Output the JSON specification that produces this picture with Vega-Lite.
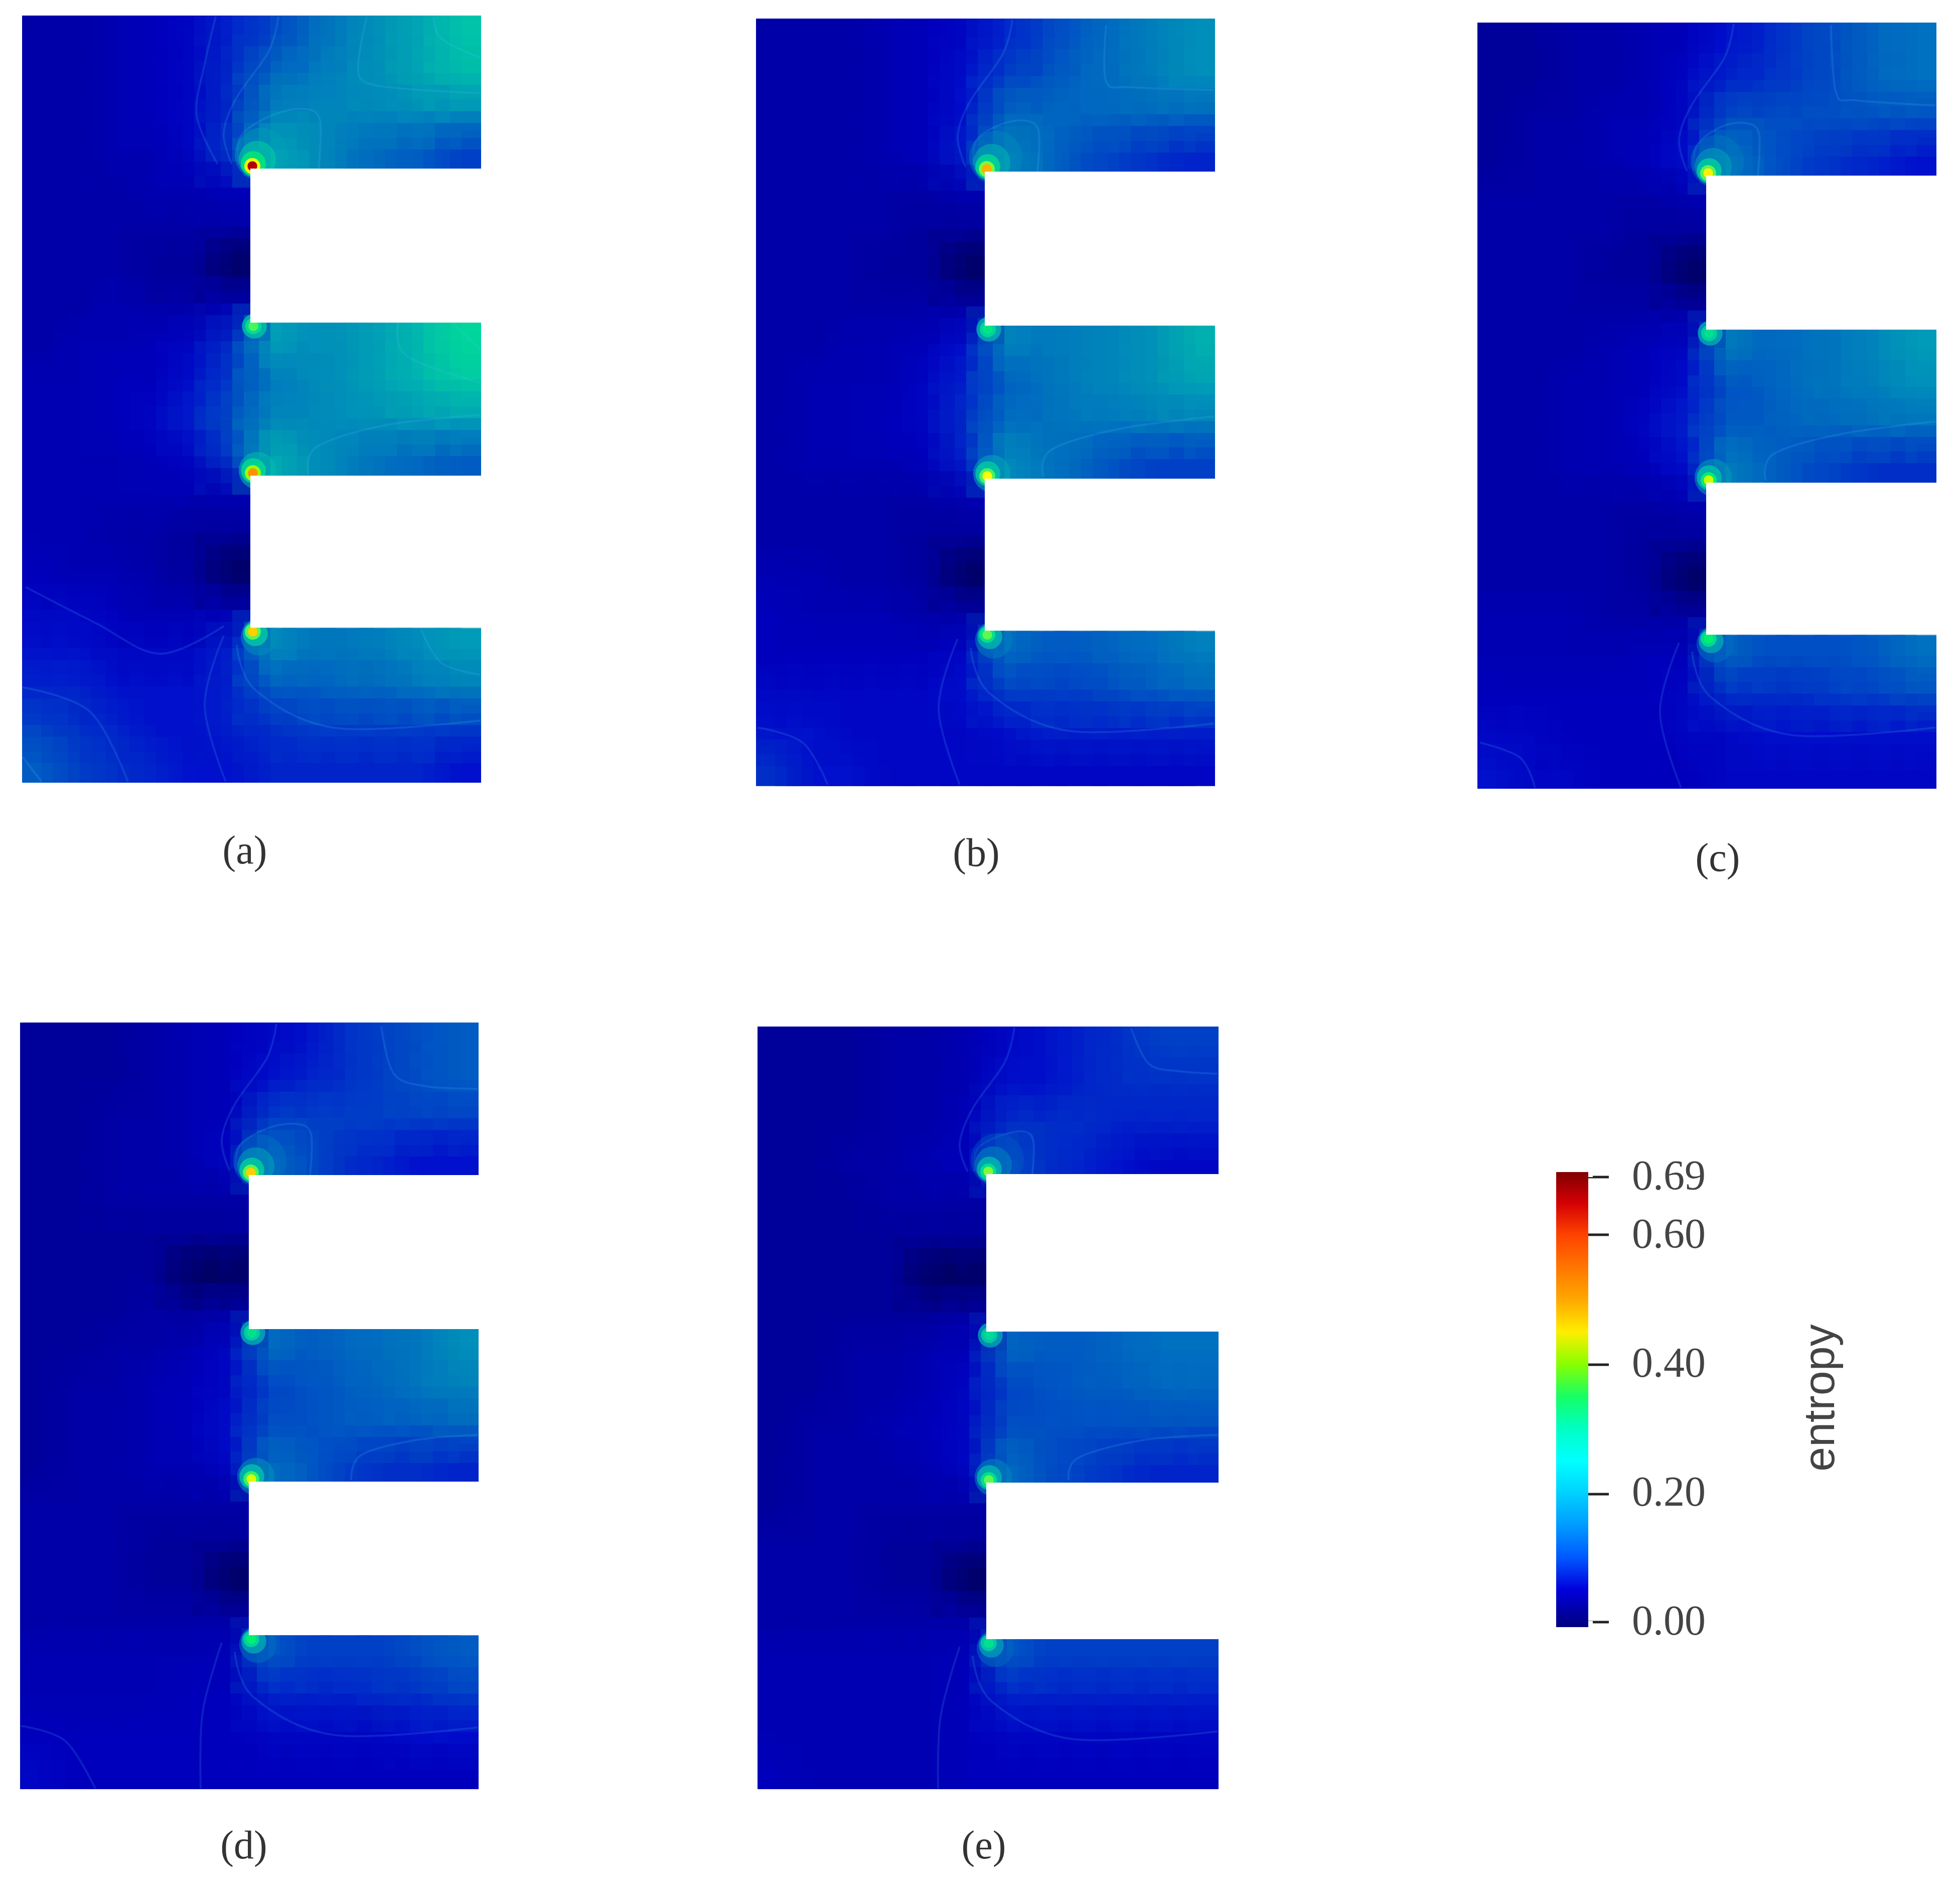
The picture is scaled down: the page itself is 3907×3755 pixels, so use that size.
{"$schema":"https://vega.github.io/schema/vega-lite/v6.json","width":3907,"height":3755,"padding":0,"autosize":{"type":"none"},"background":"white","view":{"stroke":null},
"datasets":{"cells":[
{"x":82,"y":69,"v":0.02},{"x":158,"y":69,"v":0.02},{"x":235,"y":69,"v":0.03},{"x":311,"y":69,"v":0.04},{"x":387,"y":69,"v":0.05},{"x":463,"y":69,"v":0.07},{"x":539,"y":69,"v":0.09},{"x":615,"y":69,"v":0.12},{"x":692,"y":69,"v":0.15},{"x":768,"y":69,"v":0.18},{"x":844,"y":69,"v":0.21},{"x":920,"y":69,"v":0.25},
{"x":82,"y":145,"v":0.02},{"x":158,"y":145,"v":0.02},{"x":235,"y":145,"v":0.03},{"x":311,"y":145,"v":0.04},{"x":387,"y":145,"v":0.05},{"x":463,"y":145,"v":0.08},{"x":539,"y":145,"v":0.12},{"x":615,"y":145,"v":0.14},{"x":692,"y":145,"v":0.16},{"x":768,"y":145,"v":0.18},{"x":844,"y":145,"v":0.21},{"x":920,"y":145,"v":0.24},
{"x":82,"y":222,"v":0.02},{"x":158,"y":222,"v":0.02},{"x":235,"y":222,"v":0.03},{"x":311,"y":222,"v":0.04},{"x":387,"y":222,"v":0.05},{"x":463,"y":222,"v":0.08},{"x":539,"y":222,"v":0.15},{"x":615,"y":222,"v":0.16},{"x":692,"y":222,"v":0.16},{"x":768,"y":222,"v":0.16},{"x":844,"y":222,"v":0.17},{"x":920,"y":222,"v":0.17},
{"x":82,"y":298,"v":0.02},{"x":158,"y":298,"v":0.02},{"x":235,"y":298,"v":0.03},{"x":311,"y":298,"v":0.03},{"x":387,"y":298,"v":0.05},{"x":463,"y":298,"v":0.09},{"x":539,"y":298,"v":0.2},{"x":615,"y":298,"v":0.18},{"x":692,"y":298,"v":0.14},{"x":768,"y":298,"v":0.12},{"x":844,"y":298,"v":0.11},{"x":920,"y":298,"v":0.09},
{"x":82,"y":375,"v":0.02},{"x":158,"y":375,"v":0.02},{"x":235,"y":375,"v":0.02},{"x":311,"y":375,"v":0.03},{"x":387,"y":375,"v":0.03},{"x":463,"y":375,"v":0.04},
{"x":82,"y":451,"v":0.02},{"x":158,"y":451,"v":0.02},{"x":235,"y":451,"v":0.02},{"x":311,"y":451,"v":0.02},{"x":387,"y":451,"v":0.02},{"x":463,"y":451,"v":0.02},
{"x":82,"y":528,"v":0.02},{"x":158,"y":528,"v":0.02},{"x":235,"y":528,"v":0.02},{"x":311,"y":528,"v":0.01},{"x":387,"y":528,"v":0.01},{"x":463,"y":528,"v":0},
{"x":82,"y":604,"v":0.02},{"x":158,"y":604,"v":0.02},{"x":235,"y":604,"v":0.03},{"x":311,"y":604,"v":0.02},{"x":387,"y":604,"v":0.02},{"x":463,"y":604,"v":0.03},
{"x":82,"y":681,"v":0.02},{"x":158,"y":681,"v":0.03},{"x":235,"y":681,"v":0.03},{"x":311,"y":681,"v":0.04},{"x":387,"y":681,"v":0.05},{"x":463,"y":681,"v":0.08},{"x":539,"y":681,"v":0.2},{"x":615,"y":681,"v":0.17},{"x":692,"y":681,"v":0.18},{"x":768,"y":681,"v":0.2},{"x":844,"y":681,"v":0.24},{"x":920,"y":681,"v":0.28},
{"x":82,"y":757,"v":0.03},{"x":158,"y":757,"v":0.03},{"x":235,"y":757,"v":0.04},{"x":311,"y":757,"v":0.04},{"x":387,"y":757,"v":0.06},{"x":463,"y":757,"v":0.09},{"x":539,"y":757,"v":0.14},{"x":615,"y":757,"v":0.16},{"x":692,"y":757,"v":0.18},{"x":768,"y":757,"v":0.2},{"x":844,"y":757,"v":0.23},{"x":920,"y":757,"v":0.26},
{"x":82,"y":833,"v":0.03},{"x":158,"y":833,"v":0.03},{"x":235,"y":833,"v":0.04},{"x":311,"y":833,"v":0.05},{"x":387,"y":833,"v":0.07},{"x":463,"y":833,"v":0.1},{"x":539,"y":833,"v":0.16},{"x":615,"y":833,"v":0.16},{"x":692,"y":833,"v":0.17},{"x":768,"y":833,"v":0.18},{"x":844,"y":833,"v":0.19},{"x":920,"y":833,"v":0.2},
{"x":82,"y":910,"v":0.03},{"x":158,"y":910,"v":0.03},{"x":235,"y":910,"v":0.03},{"x":311,"y":910,"v":0.04},{"x":387,"y":910,"v":0.05},{"x":463,"y":910,"v":0.09},{"x":539,"y":910,"v":0.22},{"x":615,"y":910,"v":0.18},{"x":692,"y":910,"v":0.15},{"x":768,"y":910,"v":0.13},{"x":844,"y":910,"v":0.12},{"x":920,"y":910,"v":0.11},
{"x":82,"y":986,"v":0.03},{"x":158,"y":986,"v":0.03},{"x":235,"y":986,"v":0.03},{"x":311,"y":986,"v":0.03},{"x":387,"y":986,"v":0.03},{"x":463,"y":986,"v":0.03},
{"x":82,"y":1063,"v":0.03},{"x":158,"y":1063,"v":0.03},{"x":235,"y":1063,"v":0.02},{"x":311,"y":1063,"v":0.02},{"x":387,"y":1063,"v":0.01},{"x":463,"y":1063,"v":0.01},
{"x":82,"y":1139,"v":0.04},{"x":158,"y":1139,"v":0.03},{"x":235,"y":1139,"v":0.03},{"x":311,"y":1139,"v":0.02},{"x":387,"y":1139,"v":0.01},{"x":463,"y":1139,"v":0},
{"x":82,"y":1216,"v":0.05},{"x":158,"y":1216,"v":0.05},{"x":235,"y":1216,"v":0.04},{"x":311,"y":1216,"v":0.03},{"x":387,"y":1216,"v":0.03},{"x":463,"y":1216,"v":0.03},
{"x":82,"y":1292,"v":0.06},{"x":158,"y":1292,"v":0.06},{"x":235,"y":1292,"v":0.05},{"x":311,"y":1292,"v":0.05},{"x":387,"y":1292,"v":0.05},{"x":463,"y":1292,"v":0.07},{"x":539,"y":1292,"v":0.17},{"x":615,"y":1292,"v":0.14},{"x":692,"y":1292,"v":0.14},{"x":768,"y":1292,"v":0.15},{"x":844,"y":1292,"v":0.17},{"x":920,"y":1292,"v":0.19},
{"x":82,"y":1369,"v":0.07},{"x":158,"y":1369,"v":0.07},{"x":235,"y":1369,"v":0.06},{"x":311,"y":1369,"v":0.06},{"x":387,"y":1369,"v":0.06},{"x":463,"y":1369,"v":0.07},{"x":539,"y":1369,"v":0.11},{"x":615,"y":1369,"v":0.11},{"x":692,"y":1369,"v":0.12},{"x":768,"y":1369,"v":0.12},{"x":844,"y":1369,"v":0.14},{"x":920,"y":1369,"v":0.15},
{"x":82,"y":1445,"v":0.09},{"x":158,"y":1445,"v":0.08},{"x":235,"y":1445,"v":0.07},{"x":311,"y":1445,"v":0.06},{"x":387,"y":1445,"v":0.06},{"x":463,"y":1445,"v":0.07},{"x":539,"y":1445,"v":0.08},{"x":615,"y":1445,"v":0.09},{"x":692,"y":1445,"v":0.09},{"x":768,"y":1445,"v":0.09},{"x":844,"y":1445,"v":0.09},{"x":920,"y":1445,"v":0.09},
{"x":82,"y":1521,"v":0.11},{"x":158,"y":1521,"v":0.09},{"x":235,"y":1521,"v":0.08},{"x":311,"y":1521,"v":0.07},{"x":387,"y":1521,"v":0.06},{"x":463,"y":1521,"v":0.06},{"x":539,"y":1521,"v":0.07},{"x":615,"y":1521,"v":0.07},{"x":692,"y":1521,"v":0.07},{"x":768,"y":1521,"v":0.07},{"x":844,"y":1521,"v":0.07},{"x":920,"y":1521,"v":0.06},

{"x":1545,"y":75,"v":0.02},{"x":1621,"y":75,"v":0.02},{"x":1698,"y":75,"v":0.02},{"x":1774,"y":75,"v":0.03},{"x":1850,"y":75,"v":0.04},{"x":1926,"y":75,"v":0.05},{"x":2002,"y":75,"v":0.07},{"x":2078,"y":75,"v":0.09},{"x":2155,"y":75,"v":0.11},{"x":2231,"y":75,"v":0.13},{"x":2307,"y":75,"v":0.15},{"x":2383,"y":75,"v":0.17},
{"x":1545,"y":151,"v":0.02},{"x":1621,"y":151,"v":0.02},{"x":1698,"y":151,"v":0.02},{"x":1774,"y":151,"v":0.03},{"x":1850,"y":151,"v":0.04},{"x":1926,"y":151,"v":0.06},{"x":2002,"y":151,"v":0.09},{"x":2078,"y":151,"v":0.1},{"x":2155,"y":151,"v":0.12},{"x":2231,"y":151,"v":0.13},{"x":2307,"y":151,"v":0.15},{"x":2383,"y":151,"v":0.17},
{"x":1545,"y":228,"v":0.02},{"x":1621,"y":228,"v":0.02},{"x":1698,"y":228,"v":0.02},{"x":1774,"y":228,"v":0.03},{"x":1850,"y":228,"v":0.04},{"x":1926,"y":228,"v":0.06},{"x":2002,"y":228,"v":0.12},{"x":2078,"y":228,"v":0.12},{"x":2155,"y":228,"v":0.12},{"x":2231,"y":228,"v":0.12},{"x":2307,"y":228,"v":0.12},{"x":2383,"y":228,"v":0.12},
{"x":1545,"y":304,"v":0.02},{"x":1621,"y":304,"v":0.02},{"x":1698,"y":304,"v":0.02},{"x":1774,"y":304,"v":0.03},{"x":1850,"y":304,"v":0.04},{"x":1926,"y":304,"v":0.07},{"x":2002,"y":304,"v":0.15},{"x":2078,"y":304,"v":0.13},{"x":2155,"y":304,"v":0.1},{"x":2231,"y":304,"v":0.09},{"x":2307,"y":304,"v":0.08},{"x":2383,"y":304,"v":0.07},
{"x":1545,"y":381,"v":0.02},{"x":1621,"y":381,"v":0.02},{"x":1698,"y":381,"v":0.02},{"x":1774,"y":381,"v":0.02},{"x":1850,"y":381,"v":0.02},{"x":1926,"y":381,"v":0.03},
{"x":1545,"y":457,"v":0.02},{"x":1621,"y":457,"v":0.02},{"x":1698,"y":457,"v":0.02},{"x":1774,"y":457,"v":0.02},{"x":1850,"y":457,"v":0.01},{"x":1926,"y":457,"v":0.01},
{"x":1545,"y":534,"v":0.02},{"x":1621,"y":534,"v":0.02},{"x":1698,"y":534,"v":0.02},{"x":1774,"y":534,"v":0.01},{"x":1850,"y":534,"v":0.01},{"x":1926,"y":534,"v":0},
{"x":1545,"y":610,"v":0.02},{"x":1621,"y":610,"v":0.02},{"x":1698,"y":610,"v":0.02},{"x":1774,"y":610,"v":0.02},{"x":1850,"y":610,"v":0.02},{"x":1926,"y":610,"v":0.02},
{"x":1545,"y":687,"v":0.02},{"x":1621,"y":687,"v":0.02},{"x":1698,"y":687,"v":0.03},{"x":1774,"y":687,"v":0.03},{"x":1850,"y":687,"v":0.04},{"x":1926,"y":687,"v":0.06},{"x":2002,"y":687,"v":0.16},{"x":2078,"y":687,"v":0.14},{"x":2155,"y":687,"v":0.15},{"x":2231,"y":687,"v":0.16},{"x":2307,"y":687,"v":0.18},{"x":2383,"y":687,"v":0.22},
{"x":1545,"y":763,"v":0.02},{"x":1621,"y":763,"v":0.03},{"x":1698,"y":763,"v":0.03},{"x":1774,"y":763,"v":0.03},{"x":1850,"y":763,"v":0.05},{"x":1926,"y":763,"v":0.07},{"x":2002,"y":763,"v":0.11},{"x":2078,"y":763,"v":0.13},{"x":2155,"y":763,"v":0.15},{"x":2231,"y":763,"v":0.16},{"x":2307,"y":763,"v":0.18},{"x":2383,"y":763,"v":0.2},
{"x":1545,"y":839,"v":0.02},{"x":1621,"y":839,"v":0.03},{"x":1698,"y":839,"v":0.03},{"x":1774,"y":839,"v":0.04},{"x":1850,"y":839,"v":0.05},{"x":1926,"y":839,"v":0.08},{"x":2002,"y":839,"v":0.13},{"x":2078,"y":839,"v":0.13},{"x":2155,"y":839,"v":0.14},{"x":2231,"y":839,"v":0.14},{"x":2307,"y":839,"v":0.15},{"x":2383,"y":839,"v":0.15},
{"x":1545,"y":916,"v":0.02},{"x":1621,"y":916,"v":0.03},{"x":1698,"y":916,"v":0.03},{"x":1774,"y":916,"v":0.03},{"x":1850,"y":916,"v":0.04},{"x":1926,"y":916,"v":0.07},{"x":2002,"y":916,"v":0.17},{"x":2078,"y":916,"v":0.14},{"x":2155,"y":916,"v":0.12},{"x":2231,"y":916,"v":0.1},{"x":2307,"y":916,"v":0.09},{"x":2383,"y":916,"v":0.09},
{"x":1545,"y":992,"v":0.02},{"x":1621,"y":992,"v":0.02},{"x":1698,"y":992,"v":0.02},{"x":1774,"y":992,"v":0.02},{"x":1850,"y":992,"v":0.02},{"x":1926,"y":992,"v":0.03},
{"x":1545,"y":1069,"v":0.02},{"x":1621,"y":1069,"v":0.02},{"x":1698,"y":1069,"v":0.02},{"x":1774,"y":1069,"v":0.02},{"x":1850,"y":1069,"v":0.01},{"x":1926,"y":1069,"v":0.01},
{"x":1545,"y":1145,"v":0.03},{"x":1621,"y":1145,"v":0.03},{"x":1698,"y":1145,"v":0.02},{"x":1774,"y":1145,"v":0.02},{"x":1850,"y":1145,"v":0.01},{"x":1926,"y":1145,"v":0},
{"x":1545,"y":1222,"v":0.04},{"x":1621,"y":1222,"v":0.03},{"x":1698,"y":1222,"v":0.03},{"x":1774,"y":1222,"v":0.03},{"x":1850,"y":1222,"v":0.02},{"x":1926,"y":1222,"v":0.02},
{"x":1545,"y":1298,"v":0.04},{"x":1621,"y":1298,"v":0.04},{"x":1698,"y":1298,"v":0.04},{"x":1774,"y":1298,"v":0.04},{"x":1850,"y":1298,"v":0.04},{"x":1926,"y":1298,"v":0.05},{"x":2002,"y":1298,"v":0.13},{"x":2078,"y":1298,"v":0.11},{"x":2155,"y":1298,"v":0.11},{"x":2231,"y":1298,"v":0.12},{"x":2307,"y":1298,"v":0.13},{"x":2383,"y":1298,"v":0.15},
{"x":1545,"y":1375,"v":0.05},{"x":1621,"y":1375,"v":0.05},{"x":1698,"y":1375,"v":0.05},{"x":1774,"y":1375,"v":0.05},{"x":1850,"y":1375,"v":0.05},{"x":1926,"y":1375,"v":0.06},{"x":2002,"y":1375,"v":0.09},{"x":2078,"y":1375,"v":0.09},{"x":2155,"y":1375,"v":0.09},{"x":2231,"y":1375,"v":0.1},{"x":2307,"y":1375,"v":0.11},{"x":2383,"y":1375,"v":0.12},
{"x":1545,"y":1451,"v":0.06},{"x":1621,"y":1451,"v":0.06},{"x":1698,"y":1451,"v":0.05},{"x":1774,"y":1451,"v":0.05},{"x":1850,"y":1451,"v":0.05},{"x":1926,"y":1451,"v":0.05},{"x":2002,"y":1451,"v":0.06},{"x":2078,"y":1451,"v":0.07},{"x":2155,"y":1451,"v":0.07},{"x":2231,"y":1451,"v":0.07},{"x":2307,"y":1451,"v":0.07},{"x":2383,"y":1451,"v":0.07},
{"x":1545,"y":1527,"v":0.08},{"x":1621,"y":1527,"v":0.06},{"x":1698,"y":1527,"v":0.06},{"x":1774,"y":1527,"v":0.05},{"x":1850,"y":1527,"v":0.05},{"x":1926,"y":1527,"v":0.05},{"x":2002,"y":1527,"v":0.05},{"x":2078,"y":1527,"v":0.05},{"x":2155,"y":1527,"v":0.05},{"x":2231,"y":1527,"v":0.05},{"x":2307,"y":1527,"v":0.05},{"x":2383,"y":1527,"v":0.05},

{"x":2983,"y":83,"v":0.01},{"x":3059,"y":83,"v":0.01},{"x":3136,"y":83,"v":0.02},{"x":3212,"y":83,"v":0.02},{"x":3288,"y":83,"v":0.03},{"x":3364,"y":83,"v":0.04},{"x":3440,"y":83,"v":0.06},{"x":3516,"y":83,"v":0.07},{"x":3593,"y":83,"v":0.09},{"x":3669,"y":83,"v":0.1},{"x":3745,"y":83,"v":0.12},{"x":3821,"y":83,"v":0.13},
{"x":2983,"y":159,"v":0.01},{"x":3059,"y":159,"v":0.01},{"x":3136,"y":159,"v":0.02},{"x":3212,"y":159,"v":0.02},{"x":3288,"y":159,"v":0.03},{"x":3364,"y":159,"v":0.05},{"x":3440,"y":159,"v":0.07},{"x":3516,"y":159,"v":0.08},{"x":3593,"y":159,"v":0.09},{"x":3669,"y":159,"v":0.1},{"x":3745,"y":159,"v":0.12},{"x":3821,"y":159,"v":0.13},
{"x":2983,"y":236,"v":0.01},{"x":3059,"y":236,"v":0.02},{"x":3136,"y":236,"v":0.02},{"x":3212,"y":236,"v":0.03},{"x":3288,"y":236,"v":0.03},{"x":3364,"y":236,"v":0.05},{"x":3440,"y":236,"v":0.1},{"x":3516,"y":236,"v":0.1},{"x":3593,"y":236,"v":0.1},{"x":3669,"y":236,"v":0.1},{"x":3745,"y":236,"v":0.1},{"x":3821,"y":236,"v":0.1},
{"x":2983,"y":312,"v":0.01},{"x":3059,"y":312,"v":0.02},{"x":3136,"y":312,"v":0.02},{"x":3212,"y":312,"v":0.03},{"x":3288,"y":312,"v":0.04},{"x":3364,"y":312,"v":0.06},{"x":3440,"y":312,"v":0.14},{"x":3516,"y":312,"v":0.11},{"x":3593,"y":312,"v":0.09},{"x":3669,"y":312,"v":0.08},{"x":3745,"y":312,"v":0.07},{"x":3821,"y":312,"v":0.06},
{"x":2983,"y":389,"v":0.02},{"x":3059,"y":389,"v":0.02},{"x":3136,"y":389,"v":0.02},{"x":3212,"y":389,"v":0.02},{"x":3288,"y":389,"v":0.02},{"x":3364,"y":389,"v":0.03},
{"x":2983,"y":465,"v":0.02},{"x":3059,"y":465,"v":0.02},{"x":3136,"y":465,"v":0.02},{"x":3212,"y":465,"v":0.02},{"x":3288,"y":465,"v":0.01},{"x":3364,"y":465,"v":0.01},
{"x":2983,"y":542,"v":0.02},{"x":3059,"y":542,"v":0.02},{"x":3136,"y":542,"v":0.02},{"x":3212,"y":542,"v":0.01},{"x":3288,"y":542,"v":0.01},{"x":3364,"y":542,"v":0},
{"x":2983,"y":618,"v":0.02},{"x":3059,"y":618,"v":0.02},{"x":3136,"y":618,"v":0.02},{"x":3212,"y":618,"v":0.02},{"x":3288,"y":618,"v":0.02},{"x":3364,"y":618,"v":0.02},
{"x":2983,"y":695,"v":0.02},{"x":3059,"y":695,"v":0.02},{"x":3136,"y":695,"v":0.02},{"x":3212,"y":695,"v":0.03},{"x":3288,"y":695,"v":0.04},{"x":3364,"y":695,"v":0.05},{"x":3440,"y":695,"v":0.15},{"x":3516,"y":695,"v":0.12},{"x":3593,"y":695,"v":0.13},{"x":3669,"y":695,"v":0.14},{"x":3745,"y":695,"v":0.16},{"x":3821,"y":695,"v":0.19},
{"x":2983,"y":771,"v":0.02},{"x":3059,"y":771,"v":0.02},{"x":3136,"y":771,"v":0.03},{"x":3212,"y":771,"v":0.03},{"x":3288,"y":771,"v":0.04},{"x":3364,"y":771,"v":0.06},{"x":3440,"y":771,"v":0.1},{"x":3516,"y":771,"v":0.11},{"x":3593,"y":771,"v":0.13},{"x":3669,"y":771,"v":0.14},{"x":3745,"y":771,"v":0.15},{"x":3821,"y":771,"v":0.17},
{"x":2983,"y":847,"v":0.02},{"x":3059,"y":847,"v":0.02},{"x":3136,"y":847,"v":0.03},{"x":3212,"y":847,"v":0.03},{"x":3288,"y":847,"v":0.05},{"x":3364,"y":847,"v":0.07},{"x":3440,"y":847,"v":0.11},{"x":3516,"y":847,"v":0.11},{"x":3593,"y":847,"v":0.12},{"x":3669,"y":847,"v":0.12},{"x":3745,"y":847,"v":0.13},{"x":3821,"y":847,"v":0.13},
{"x":2983,"y":924,"v":0.02},{"x":3059,"y":924,"v":0.02},{"x":3136,"y":924,"v":0.03},{"x":3212,"y":924,"v":0.03},{"x":3288,"y":924,"v":0.04},{"x":3364,"y":924,"v":0.06},{"x":3440,"y":924,"v":0.15},{"x":3516,"y":924,"v":0.12},{"x":3593,"y":924,"v":0.1},{"x":3669,"y":924,"v":0.09},{"x":3745,"y":924,"v":0.08},{"x":3821,"y":924,"v":0.08},
{"x":2983,"y":1000,"v":0.02},{"x":3059,"y":1000,"v":0.02},{"x":3136,"y":1000,"v":0.02},{"x":3212,"y":1000,"v":0.02},{"x":3288,"y":1000,"v":0.02},{"x":3364,"y":1000,"v":0.03},
{"x":2983,"y":1077,"v":0.02},{"x":3059,"y":1077,"v":0.02},{"x":3136,"y":1077,"v":0.02},{"x":3212,"y":1077,"v":0.02},{"x":3288,"y":1077,"v":0.01},{"x":3364,"y":1077,"v":0.01},
{"x":2983,"y":1153,"v":0.02},{"x":3059,"y":1153,"v":0.02},{"x":3136,"y":1153,"v":0.02},{"x":3212,"y":1153,"v":0.02},{"x":3288,"y":1153,"v":0.01},{"x":3364,"y":1153,"v":0},
{"x":2983,"y":1230,"v":0.03},{"x":3059,"y":1230,"v":0.03},{"x":3136,"y":1230,"v":0.03},{"x":3212,"y":1230,"v":0.02},{"x":3288,"y":1230,"v":0.02},{"x":3364,"y":1230,"v":0.02},
{"x":2983,"y":1306,"v":0.03},{"x":3059,"y":1306,"v":0.03},{"x":3136,"y":1306,"v":0.03},{"x":3212,"y":1306,"v":0.03},{"x":3288,"y":1306,"v":0.04},{"x":3364,"y":1306,"v":0.04},{"x":3440,"y":1306,"v":0.12},{"x":3516,"y":1306,"v":0.1},{"x":3593,"y":1306,"v":0.1},{"x":3669,"y":1306,"v":0.1},{"x":3745,"y":1306,"v":0.11},{"x":3821,"y":1306,"v":0.13},
{"x":2983,"y":1383,"v":0.04},{"x":3059,"y":1383,"v":0.04},{"x":3136,"y":1383,"v":0.04},{"x":3212,"y":1383,"v":0.04},{"x":3288,"y":1383,"v":0.04},{"x":3364,"y":1383,"v":0.05},{"x":3440,"y":1383,"v":0.08},{"x":3516,"y":1383,"v":0.08},{"x":3593,"y":1383,"v":0.08},{"x":3669,"y":1383,"v":0.09},{"x":3745,"y":1383,"v":0.09},{"x":3821,"y":1383,"v":0.1},
{"x":2983,"y":1459,"v":0.05},{"x":3059,"y":1459,"v":0.05},{"x":3136,"y":1459,"v":0.04},{"x":3212,"y":1459,"v":0.04},{"x":3288,"y":1459,"v":0.04},{"x":3364,"y":1459,"v":0.05},{"x":3440,"y":1459,"v":0.05},{"x":3516,"y":1459,"v":0.06},{"x":3593,"y":1459,"v":0.06},{"x":3669,"y":1459,"v":0.06},{"x":3745,"y":1459,"v":0.06},{"x":3821,"y":1459,"v":0.06},
{"x":2983,"y":1535,"v":0.06},{"x":3059,"y":1535,"v":0.05},{"x":3136,"y":1535,"v":0.05},{"x":3212,"y":1535,"v":0.04},{"x":3288,"y":1535,"v":0.04},{"x":3364,"y":1535,"v":0.04},{"x":3440,"y":1535,"v":0.05},{"x":3516,"y":1535,"v":0.05},{"x":3593,"y":1535,"v":0.05},{"x":3669,"y":1535,"v":0.05},{"x":3745,"y":1535,"v":0.05},{"x":3821,"y":1535,"v":0.05},

{"x":78,"y":2076,"v":0.01},{"x":154,"y":2076,"v":0.01},{"x":231,"y":2076,"v":0.01},{"x":307,"y":2076,"v":0.02},{"x":383,"y":2076,"v":0.03},{"x":459,"y":2076,"v":0.04},{"x":535,"y":2076,"v":0.05},{"x":611,"y":2076,"v":0.06},{"x":688,"y":2076,"v":0.08},{"x":764,"y":2076,"v":0.09},{"x":840,"y":2076,"v":0.1},{"x":916,"y":2076,"v":0.11},
{"x":78,"y":2152,"v":0.01},{"x":154,"y":2152,"v":0.01},{"x":231,"y":2152,"v":0.01},{"x":307,"y":2152,"v":0.02},{"x":383,"y":2152,"v":0.03},{"x":459,"y":2152,"v":0.04},{"x":535,"y":2152,"v":0.06},{"x":611,"y":2152,"v":0.07},{"x":688,"y":2152,"v":0.08},{"x":764,"y":2152,"v":0.09},{"x":840,"y":2152,"v":0.1},{"x":916,"y":2152,"v":0.11},
{"x":78,"y":2229,"v":0.01},{"x":154,"y":2229,"v":0.01},{"x":231,"y":2229,"v":0.02},{"x":307,"y":2229,"v":0.02},{"x":383,"y":2229,"v":0.03},{"x":459,"y":2229,"v":0.04},{"x":535,"y":2229,"v":0.09},{"x":611,"y":2229,"v":0.09},{"x":688,"y":2229,"v":0.09},{"x":764,"y":2229,"v":0.09},{"x":840,"y":2229,"v":0.09},{"x":916,"y":2229,"v":0.09},
{"x":78,"y":2305,"v":0.01},{"x":154,"y":2305,"v":0.01},{"x":231,"y":2305,"v":0.02},{"x":307,"y":2305,"v":0.02},{"x":383,"y":2305,"v":0.03},{"x":459,"y":2305,"v":0.05},{"x":535,"y":2305,"v":0.12},{"x":611,"y":2305,"v":0.1},{"x":688,"y":2305,"v":0.08},{"x":764,"y":2305,"v":0.07},{"x":840,"y":2305,"v":0.06},{"x":916,"y":2305,"v":0.06},
{"x":78,"y":2382,"v":0.01},{"x":154,"y":2382,"v":0.01},{"x":231,"y":2382,"v":0.02},{"x":307,"y":2382,"v":0.02},{"x":383,"y":2382,"v":0.02},{"x":459,"y":2382,"v":0.02},
{"x":78,"y":2458,"v":0.01},{"x":154,"y":2458,"v":0.01},{"x":231,"y":2458,"v":0.01},{"x":307,"y":2458,"v":0.01},{"x":383,"y":2458,"v":0.01},{"x":459,"y":2458,"v":0.01},
{"x":78,"y":2535,"v":0.01},{"x":154,"y":2535,"v":0.01},{"x":231,"y":2535,"v":0.01},{"x":307,"y":2535,"v":0.01},{"x":383,"y":2535,"v":0},{"x":459,"y":2535,"v":0},
{"x":78,"y":2611,"v":0.01},{"x":154,"y":2611,"v":0.01},{"x":231,"y":2611,"v":0.01},{"x":307,"y":2611,"v":0.02},{"x":383,"y":2611,"v":0.01},{"x":459,"y":2611,"v":0.02},
{"x":78,"y":2688,"v":0.01},{"x":154,"y":2688,"v":0.01},{"x":231,"y":2688,"v":0.02},{"x":307,"y":2688,"v":0.02},{"x":383,"y":2688,"v":0.03},{"x":459,"y":2688,"v":0.05},{"x":535,"y":2688,"v":0.13},{"x":611,"y":2688,"v":0.11},{"x":688,"y":2688,"v":0.12},{"x":764,"y":2688,"v":0.13},{"x":840,"y":2688,"v":0.14},{"x":916,"y":2688,"v":0.17},
{"x":78,"y":2764,"v":0.01},{"x":154,"y":2764,"v":0.02},{"x":231,"y":2764,"v":0.02},{"x":307,"y":2764,"v":0.03},{"x":383,"y":2764,"v":0.04},{"x":459,"y":2764,"v":0.05},{"x":535,"y":2764,"v":0.09},{"x":611,"y":2764,"v":0.1},{"x":688,"y":2764,"v":0.11},{"x":764,"y":2764,"v":0.12},{"x":840,"y":2764,"v":0.14},{"x":916,"y":2764,"v":0.15},
{"x":78,"y":2840,"v":0.01},{"x":154,"y":2840,"v":0.02},{"x":231,"y":2840,"v":0.02},{"x":307,"y":2840,"v":0.03},{"x":383,"y":2840,"v":0.04},{"x":459,"y":2840,"v":0.06},{"x":535,"y":2840,"v":0.1},{"x":611,"y":2840,"v":0.1},{"x":688,"y":2840,"v":0.11},{"x":764,"y":2840,"v":0.11},{"x":840,"y":2840,"v":0.11},{"x":916,"y":2840,"v":0.12},
{"x":78,"y":2917,"v":0.01},{"x":154,"y":2917,"v":0.02},{"x":231,"y":2917,"v":0.02},{"x":307,"y":2917,"v":0.03},{"x":383,"y":2917,"v":0.03},{"x":459,"y":2917,"v":0.05},{"x":535,"y":2917,"v":0.13},{"x":611,"y":2917,"v":0.11},{"x":688,"y":2917,"v":0.09},{"x":764,"y":2917,"v":0.08},{"x":840,"y":2917,"v":0.08},{"x":916,"y":2917,"v":0.07},
{"x":78,"y":2993,"v":0.02},{"x":154,"y":2993,"v":0.02},{"x":231,"y":2993,"v":0.02},{"x":307,"y":2993,"v":0.02},{"x":383,"y":2993,"v":0.02},{"x":459,"y":2993,"v":0.02},
{"x":78,"y":3070,"v":0.02},{"x":154,"y":3070,"v":0.02},{"x":231,"y":3070,"v":0.02},{"x":307,"y":3070,"v":0.01},{"x":383,"y":3070,"v":0.01},{"x":459,"y":3070,"v":0.01},
{"x":78,"y":3146,"v":0.02},{"x":154,"y":3146,"v":0.02},{"x":231,"y":3146,"v":0.02},{"x":307,"y":3146,"v":0.01},{"x":383,"y":3146,"v":0.01},{"x":459,"y":3146,"v":0},
{"x":78,"y":3223,"v":0.02},{"x":154,"y":3223,"v":0.02},{"x":231,"y":3223,"v":0.02},{"x":307,"y":3223,"v":0.02},{"x":383,"y":3223,"v":0.02},{"x":459,"y":3223,"v":0.02},
{"x":78,"y":3299,"v":0.03},{"x":154,"y":3299,"v":0.03},{"x":231,"y":3299,"v":0.03},{"x":307,"y":3299,"v":0.03},{"x":383,"y":3299,"v":0.03},{"x":459,"y":3299,"v":0.04},{"x":535,"y":3299,"v":0.11},{"x":611,"y":3299,"v":0.09},{"x":688,"y":3299,"v":0.09},{"x":764,"y":3299,"v":0.09},{"x":840,"y":3299,"v":0.1},{"x":916,"y":3299,"v":0.11},
{"x":78,"y":3376,"v":0.03},{"x":154,"y":3376,"v":0.03},{"x":231,"y":3376,"v":0.03},{"x":307,"y":3376,"v":0.03},{"x":383,"y":3376,"v":0.04},{"x":459,"y":3376,"v":0.04},{"x":535,"y":3376,"v":0.07},{"x":611,"y":3376,"v":0.07},{"x":688,"y":3376,"v":0.07},{"x":764,"y":3376,"v":0.08},{"x":840,"y":3376,"v":0.08},{"x":916,"y":3376,"v":0.09},
{"x":78,"y":3452,"v":0.04},{"x":154,"y":3452,"v":0.04},{"x":231,"y":3452,"v":0.04},{"x":307,"y":3452,"v":0.04},{"x":383,"y":3452,"v":0.04},{"x":459,"y":3452,"v":0.04},{"x":535,"y":3452,"v":0.05},{"x":611,"y":3452,"v":0.05},{"x":688,"y":3452,"v":0.05},{"x":764,"y":3452,"v":0.05},{"x":840,"y":3452,"v":0.06},{"x":916,"y":3452,"v":0.06},
{"x":78,"y":3528,"v":0.05},{"x":154,"y":3528,"v":0.04},{"x":231,"y":3528,"v":0.04},{"x":307,"y":3528,"v":0.04},{"x":383,"y":3528,"v":0.04},{"x":459,"y":3528,"v":0.04},{"x":535,"y":3528,"v":0.04},{"x":611,"y":3528,"v":0.04},{"x":688,"y":3528,"v":0.04},{"x":764,"y":3528,"v":0.04},{"x":840,"y":3528,"v":0.04},{"x":916,"y":3528,"v":0.04},

{"x":1548,"y":2084,"v":0.01},{"x":1625,"y":2084,"v":0.01},{"x":1701,"y":2084,"v":0.01},{"x":1778,"y":2084,"v":0.02},{"x":1855,"y":2084,"v":0.02},{"x":1931,"y":2084,"v":0.03},{"x":2008,"y":2084,"v":0.05},{"x":2084,"y":2084,"v":0.06},{"x":2161,"y":2084,"v":0.07},{"x":2238,"y":2084,"v":0.08},{"x":2314,"y":2084,"v":0.09},{"x":2391,"y":2084,"v":0.09},
{"x":1548,"y":2160,"v":0.01},{"x":1625,"y":2160,"v":0.01},{"x":1701,"y":2160,"v":0.01},{"x":1778,"y":2160,"v":0.02},{"x":1855,"y":2160,"v":0.02},{"x":1931,"y":2160,"v":0.03},{"x":2008,"y":2160,"v":0.06},{"x":2084,"y":2160,"v":0.06},{"x":2161,"y":2160,"v":0.07},{"x":2238,"y":2160,"v":0.08},{"x":2314,"y":2160,"v":0.08},{"x":2391,"y":2160,"v":0.08},
{"x":1548,"y":2236,"v":0.01},{"x":1625,"y":2236,"v":0.01},{"x":1701,"y":2236,"v":0.01},{"x":1778,"y":2236,"v":0.02},{"x":1855,"y":2236,"v":0.02},{"x":1931,"y":2236,"v":0.04},{"x":2008,"y":2236,"v":0.08},{"x":2084,"y":2236,"v":0.08},{"x":2161,"y":2236,"v":0.08},{"x":2238,"y":2236,"v":0.07},{"x":2314,"y":2236,"v":0.07},{"x":2391,"y":2236,"v":0.07},
{"x":1548,"y":2312,"v":0.01},{"x":1625,"y":2312,"v":0.01},{"x":1701,"y":2312,"v":0.02},{"x":1778,"y":2312,"v":0.02},{"x":1855,"y":2312,"v":0.03},{"x":1931,"y":2312,"v":0.04},{"x":2008,"y":2312,"v":0.1},{"x":2084,"y":2312,"v":0.08},{"x":2161,"y":2312,"v":0.07},{"x":2238,"y":2312,"v":0.06},{"x":2314,"y":2312,"v":0.05},{"x":2391,"y":2312,"v":0.05},
{"x":1548,"y":2388,"v":0.01},{"x":1625,"y":2388,"v":0.01},{"x":1701,"y":2388,"v":0.01},{"x":1778,"y":2388,"v":0.02},{"x":1855,"y":2388,"v":0.02},{"x":1931,"y":2388,"v":0.02},
{"x":1548,"y":2464,"v":0.01},{"x":1625,"y":2464,"v":0.01},{"x":1701,"y":2464,"v":0.01},{"x":1778,"y":2464,"v":0.01},{"x":1855,"y":2464,"v":0.01},{"x":1931,"y":2464,"v":0.01},
{"x":1548,"y":2540,"v":0.01},{"x":1625,"y":2540,"v":0.01},{"x":1701,"y":2540,"v":0.01},{"x":1778,"y":2540,"v":0.01},{"x":1855,"y":2540,"v":0},{"x":1931,"y":2540,"v":0},
{"x":1548,"y":2616,"v":0.01},{"x":1625,"y":2616,"v":0.01},{"x":1701,"y":2616,"v":0.01},{"x":1778,"y":2616,"v":0.01},{"x":1855,"y":2616,"v":0.01},{"x":1931,"y":2616,"v":0.02},
{"x":1548,"y":2692,"v":0.01},{"x":1625,"y":2692,"v":0.01},{"x":1701,"y":2692,"v":0.02},{"x":1778,"y":2692,"v":0.02},{"x":1855,"y":2692,"v":0.03},{"x":1931,"y":2692,"v":0.04},{"x":2008,"y":2692,"v":0.12},{"x":2084,"y":2692,"v":0.11},{"x":2161,"y":2692,"v":0.11},{"x":2238,"y":2692,"v":0.12},{"x":2314,"y":2692,"v":0.13},{"x":2391,"y":2692,"v":0.13},
{"x":1548,"y":2768,"v":0.01},{"x":1625,"y":2768,"v":0.01},{"x":1701,"y":2768,"v":0.02},{"x":1778,"y":2768,"v":0.02},{"x":1855,"y":2768,"v":0.03},{"x":1931,"y":2768,"v":0.05},{"x":2008,"y":2768,"v":0.09},{"x":2084,"y":2768,"v":0.1},{"x":2161,"y":2768,"v":0.11},{"x":2238,"y":2768,"v":0.11},{"x":2314,"y":2768,"v":0.12},{"x":2391,"y":2768,"v":0.12},
{"x":1548,"y":2844,"v":0.01},{"x":1625,"y":2844,"v":0.02},{"x":1701,"y":2844,"v":0.02},{"x":1778,"y":2844,"v":0.03},{"x":1855,"y":2844,"v":0.04},{"x":1931,"y":2844,"v":0.05},{"x":2008,"y":2844,"v":0.1},{"x":2084,"y":2844,"v":0.1},{"x":2161,"y":2844,"v":0.1},{"x":2238,"y":2844,"v":0.1},{"x":2314,"y":2844,"v":0.1},{"x":2391,"y":2844,"v":0.1},
{"x":1548,"y":2920,"v":0.01},{"x":1625,"y":2920,"v":0.02},{"x":1701,"y":2920,"v":0.02},{"x":1778,"y":2920,"v":0.02},{"x":1855,"y":2920,"v":0.03},{"x":1931,"y":2920,"v":0.05},{"x":2008,"y":2920,"v":0.13},{"x":2084,"y":2920,"v":0.1},{"x":2161,"y":2920,"v":0.09},{"x":2238,"y":2920,"v":0.08},{"x":2314,"y":2920,"v":0.07},{"x":2391,"y":2920,"v":0.07},
{"x":1548,"y":2996,"v":0.01},{"x":1625,"y":2996,"v":0.02},{"x":1701,"y":2996,"v":0.02},{"x":1778,"y":2996,"v":0.02},{"x":1855,"y":2996,"v":0.02},{"x":1931,"y":2996,"v":0.02},
{"x":1548,"y":3072,"v":0.02},{"x":1625,"y":3072,"v":0.02},{"x":1701,"y":3072,"v":0.02},{"x":1778,"y":3072,"v":0.01},{"x":1855,"y":3072,"v":0.01},{"x":1931,"y":3072,"v":0.01},
{"x":1548,"y":3148,"v":0.02},{"x":1625,"y":3148,"v":0.02},{"x":1701,"y":3148,"v":0.02},{"x":1778,"y":3148,"v":0.01},{"x":1855,"y":3148,"v":0.01},{"x":1931,"y":3148,"v":0},
{"x":1548,"y":3224,"v":0.02},{"x":1625,"y":3224,"v":0.02},{"x":1701,"y":3224,"v":0.02},{"x":1778,"y":3224,"v":0.02},{"x":1855,"y":3224,"v":0.02},{"x":1931,"y":3224,"v":0.02},
{"x":1548,"y":3300,"v":0.03},{"x":1625,"y":3300,"v":0.03},{"x":1701,"y":3300,"v":0.03},{"x":1778,"y":3300,"v":0.03},{"x":1855,"y":3300,"v":0.03},{"x":1931,"y":3300,"v":0.04},{"x":2008,"y":3300,"v":0.11},{"x":2084,"y":3300,"v":0.09},{"x":2161,"y":3300,"v":0.09},{"x":2238,"y":3300,"v":0.09},{"x":2314,"y":3300,"v":0.09},{"x":2391,"y":3300,"v":0.09},
{"x":1548,"y":3376,"v":0.03},{"x":1625,"y":3376,"v":0.03},{"x":1701,"y":3376,"v":0.03},{"x":1778,"y":3376,"v":0.03},{"x":1855,"y":3376,"v":0.03},{"x":1931,"y":3376,"v":0.04},{"x":2008,"y":3376,"v":0.07},{"x":2084,"y":3376,"v":0.07},{"x":2161,"y":3376,"v":0.07},{"x":2238,"y":3376,"v":0.07},{"x":2314,"y":3376,"v":0.07},{"x":2391,"y":3376,"v":0.07},
{"x":1548,"y":3452,"v":0.03},{"x":1625,"y":3452,"v":0.03},{"x":1701,"y":3452,"v":0.03},{"x":1778,"y":3452,"v":0.03},{"x":1855,"y":3452,"v":0.03},{"x":1931,"y":3452,"v":0.04},{"x":2008,"y":3452,"v":0.05},{"x":2084,"y":3452,"v":0.05},{"x":2161,"y":3452,"v":0.05},{"x":2238,"y":3452,"v":0.05},{"x":2314,"y":3452,"v":0.05},{"x":2391,"y":3452,"v":0.05},
{"x":1548,"y":3528,"v":0.04},{"x":1625,"y":3528,"v":0.03},{"x":1701,"y":3528,"v":0.03},{"x":1778,"y":3528,"v":0.03},{"x":1855,"y":3528,"v":0.03},{"x":1931,"y":3528,"v":0.04},{"x":2008,"y":3528,"v":0.04},{"x":2084,"y":3528,"v":0.04},{"x":2161,"y":3528,"v":0.04},{"x":2238,"y":3528,"v":0.04},{"x":2314,"y":3528,"v":0.04},{"x":2391,"y":3528,"v":0.04}
],
"lines":[
{"k":"a1","o":1,"x":731,"y":33},{"k":"a1","o":2,"x":714,"y":128},{"k":"a1","o":3,"x":727,"y":163},{"k":"a1","o":4,"x":797,"y":176},{"k":"a1","o":5,"x":957,"y":186},
{"k":"a2","o":1,"x":864,"y":33},{"k":"a2","o":2,"x":880,"y":77},{"k":"a2","o":3,"x":957,"y":115},
{"k":"a3","o":1,"x":475,"y":327},{"k":"a3","o":2,"x":481,"y":270},{"k":"a3","o":3,"x":542,"y":230},{"k":"a3","o":4,"x":606,"y":217},{"k":"a3","o":5,"x":638,"y":240},{"k":"a3","o":6,"x":635,"y":337},
{"k":"a4","o":1,"x":555,"y":33},{"k":"a4","o":2,"x":536,"y":102},{"k":"a4","o":3,"x":472,"y":194},{"k":"a4","o":4,"x":446,"y":265},{"k":"a4","o":5,"x":462,"y":327},
{"k":"a5","o":1,"x":430,"y":33},{"k":"a5","o":2,"x":408,"y":128},{"k":"a5","o":3,"x":392,"y":230},{"k":"a5","o":4,"x":434,"y":327},
{"k":"a6","o":1,"x":794,"y":643},{"k":"a6","o":2,"x":810,"y":709},{"k":"a6","o":3,"x":957,"y":763},
{"k":"a7","o":1,"x":902,"y":643},{"k":"a7","o":2,"x":957,"y":696},
{"k":"a8","o":1,"x":615,"y":945},{"k":"a8","o":2,"x":631,"y":891},{"k":"a8","o":3,"x":765,"y":848},{"k":"a8","o":4,"x":957,"y":827},
{"k":"a9","o":1,"x":839,"y":1254},{"k":"a9","o":2,"x":880,"y":1321},{"k":"a9","o":3,"x":957,"y":1345},
{"k":"a10","o":1,"x":472,"y":1285},{"k":"a10","o":2,"x":510,"y":1376},{"k":"a10","o":3,"x":670,"y":1451},{"k":"a10","o":4,"x":957,"y":1436},
{"k":"a11","o":1,"x":446,"y":1267},{"k":"a11","o":2,"x":408,"y":1406},{"k":"a11","o":3,"x":450,"y":1558},
{"k":"a12","o":1,"x":45,"y":1370},{"k":"a12","o":2,"x":179,"y":1418},{"k":"a12","o":3,"x":255,"y":1558},
{"k":"a13","o":1,"x":45,"y":1509},{"k":"a13","o":2,"x":83,"y":1558},
{"k":"a14","o":1,"x":51,"y":1170},{"k":"a14","o":2,"x":191,"y":1242},{"k":"a14","o":3,"x":319,"y":1303},{"k":"a14","o":4,"x":446,"y":1248},
{"k":"b1","o":1,"x":2205,"y":50},{"k":"b1","o":2,"x":2205,"y":162},{"k":"b1","o":3,"x":2255,"y":174},{"k":"b1","o":4,"x":2420,"y":179},
{"k":"b2","o":1,"x":1940,"y":330},{"k":"b2","o":2,"x":1946,"y":280},{"k":"b2","o":3,"x":1990,"y":250},{"k":"b2","o":4,"x":2040,"y":240},{"k":"b2","o":5,"x":2070,"y":260},{"k":"b2","o":6,"x":2068,"y":342},
{"k":"b3","o":1,"x":2018,"y":39},{"k":"b3","o":2,"x":1999,"y":108},{"k":"b3","o":3,"x":1935,"y":200},{"k":"b3","o":4,"x":1909,"y":271},{"k":"b3","o":5,"x":1925,"y":333},
{"k":"b4","o":1,"x":2080,"y":951},{"k":"b4","o":2,"x":2095,"y":897},{"k":"b4","o":3,"x":2230,"y":855},{"k":"b4","o":4,"x":2420,"y":830},
{"k":"b5","o":1,"x":1935,"y":1291},{"k":"b5","o":2,"x":1973,"y":1382},{"k":"b5","o":3,"x":2133,"y":1457},{"k":"b5","o":4,"x":2420,"y":1442},
{"k":"b6","o":1,"x":1909,"y":1273},{"k":"b6","o":2,"x":1871,"y":1412},{"k":"b6","o":3,"x":1913,"y":1564},
{"k":"b7","o":1,"x":1510,"y":1450},{"k":"b7","o":2,"x":1600,"y":1480},{"k":"b7","o":3,"x":1650,"y":1564},
{"k":"c1","o":1,"x":3650,"y":50},{"k":"c1","o":2,"x":3660,"y":185},{"k":"c1","o":3,"x":3700,"y":200},{"k":"c1","o":4,"x":3858,"y":210},
{"k":"c2","o":1,"x":3376,"y":341},{"k":"c2","o":2,"x":3382,"y":291},{"k":"c2","o":3,"x":3426,"y":255},{"k":"c2","o":4,"x":3476,"y":245},{"k":"c2","o":5,"x":3506,"y":265},{"k":"c2","o":6,"x":3504,"y":350},
{"k":"c3","o":1,"x":3456,"y":47},{"k":"c3","o":2,"x":3437,"y":116},{"k":"c3","o":3,"x":3373,"y":208},{"k":"c3","o":4,"x":3347,"y":279},{"k":"c3","o":5,"x":3363,"y":341},
{"k":"c4","o":1,"x":3520,"y":959},{"k":"c4","o":2,"x":3535,"y":905},{"k":"c4","o":3,"x":3670,"y":865},{"k":"c4","o":4,"x":3858,"y":840},
{"k":"c5","o":1,"x":3373,"y":1299},{"k":"c5","o":2,"x":3411,"y":1390},{"k":"c5","o":3,"x":3571,"y":1465},{"k":"c5","o":4,"x":3858,"y":1450},
{"k":"c6","o":1,"x":3347,"y":1281},{"k":"c6","o":2,"x":3309,"y":1420},{"k":"c6","o":3,"x":3351,"y":1570},
{"k":"c7","o":1,"x":2950,"y":1480},{"k":"c7","o":2,"x":3030,"y":1510},{"k":"c7","o":3,"x":3060,"y":1570},
{"k":"d1","o":1,"x":760,"y":2045},{"k":"d1","o":2,"x":785,"y":2140},{"k":"d1","o":3,"x":850,"y":2165},{"k":"d1","o":4,"x":952,"y":2170},
{"k":"d2","o":1,"x":471,"y":2334},{"k":"d2","o":2,"x":477,"y":2285},{"k":"d2","o":3,"x":530,"y":2250},{"k":"d2","o":4,"x":590,"y":2240},{"k":"d2","o":5,"x":620,"y":2260},{"k":"d2","o":6,"x":618,"y":2342},
{"k":"d3","o":1,"x":551,"y":2040},{"k":"d3","o":2,"x":532,"y":2109},{"k":"d3","o":3,"x":468,"y":2201},{"k":"d3","o":4,"x":442,"y":2272},{"k":"d3","o":5,"x":458,"y":2334},
{"k":"d4","o":1,"x":700,"y":2950},{"k":"d4","o":2,"x":720,"y":2900},{"k":"d4","o":3,"x":830,"y":2870},{"k":"d4","o":4,"x":952,"y":2860},
{"k":"d5","o":1,"x":468,"y":3292},{"k":"d5","o":2,"x":506,"y":3383},{"k":"d5","o":3,"x":666,"y":3458},{"k":"d5","o":4,"x":952,"y":3443},
{"k":"d6","o":1,"x":442,"y":3274},{"k":"d6","o":2,"x":404,"y":3413},{"k":"d6","o":3,"x":400,"y":3565},
{"k":"d7","o":1,"x":42,"y":3440},{"k":"d7","o":2,"x":130,"y":3470},{"k":"d7","o":3,"x":190,"y":3565},
{"k":"e1","o":1,"x":2255,"y":2050},{"k":"e1","o":2,"x":2290,"y":2120},{"k":"e1","o":3,"x":2350,"y":2135},{"k":"e1","o":4,"x":2427,"y":2140},
{"k":"e2","o":1,"x":1942,"y":2335},{"k":"e2","o":2,"x":1948,"y":2290},{"k":"e2","o":3,"x":1990,"y":2265},{"k":"e2","o":4,"x":2040,"y":2255},{"k":"e2","o":5,"x":2060,"y":2275},{"k":"e2","o":6,"x":2058,"y":2340},
{"k":"e3","o":1,"x":2022,"y":2048},{"k":"e3","o":2,"x":2003,"y":2117},{"k":"e3","o":3,"x":1939,"y":2209},{"k":"e3","o":4,"x":1913,"y":2280},{"k":"e3","o":5,"x":1929,"y":2335},
{"k":"e4","o":1,"x":2130,"y":2950},{"k":"e4","o":2,"x":2150,"y":2905},{"k":"e4","o":3,"x":2280,"y":2870},{"k":"e4","o":4,"x":2427,"y":2860},
{"k":"e5","o":1,"x":1939,"y":3300},{"k":"e5","o":2,"x":1977,"y":3391},{"k":"e5","o":3,"x":2137,"y":3466},{"k":"e5","o":4,"x":2427,"y":3451},
{"k":"e6","o":1,"x":1913,"y":3282},{"k":"e6","o":2,"x":1875,"y":3421},{"k":"e6","o":3,"x":1870,"y":3565}
],
"r1":[{"x":521,"y":308,"v":0.2},{"x":1985,"y":314,"v":0.17},{"x":3423,"y":322,"v":0.15},{"x":518,"y":2314,"v":0.14},{"x":1988,"y":2312,"v":0.11}],
"r2":[{"x":513,"y":318,"v":0.27},{"x":513,"y":938,"v":0.24},{"x":517,"y":1269,"v":0.17},{"x":1977,"y":324,"v":0.23},{"x":1977,"y":944,"v":0.21},{"x":1981,"y":1275,"v":0.15},{"x":3415,"y":332,"v":0.2},{"x":3415,"y":952,"v":0.19},{"x":3419,"y":1283,"v":0.13},{"x":510,"y":2324,"v":0.2},{"x":510,"y":2943,"v":0.18},{"x":514,"y":3277,"v":0.13},{"x":1980,"y":2322,"v":0.16},{"x":1980,"y":2945,"v":0.16},{"x":1984,"y":3285,"v":0.12}],
"r3":[{"x":505,"y":326,"v":0.33},{"x":507,"y":650,"v":0.26},{"x":505,"y":938,"v":0.3},{"x":509,"y":1263,"v":0.27},{"x":1969,"y":332,"v":0.3},{"x":1971,"y":656,"v":0.24},{"x":1969,"y":944,"v":0.27},{"x":1973,"y":1269,"v":0.24},{"x":3407,"y":340,"v":0.28},{"x":3409,"y":664,"v":0.23},{"x":3407,"y":952,"v":0.25},{"x":3411,"y":1277,"v":0.22},{"x":502,"y":2332,"v":0.28},{"x":504,"y":2656,"v":0.23},{"x":502,"y":2943,"v":0.26},{"x":506,"y":3271,"v":0.22},{"x":1972,"y":2330,"v":0.24},{"x":1974,"y":2661,"v":0.22},{"x":1972,"y":2945,"v":0.24},{"x":1976,"y":3279,"v":0.2}],
"r4":[{"x":503,"y":331,"v":0.45},{"x":505,"y":650,"v":0.3},{"x":504,"y":943,"v":0.4},{"x":504,"y":1259,"v":0.36},{"x":1967,"y":337,"v":0.38},{"x":1969,"y":656,"v":0.28},{"x":1968,"y":949,"v":0.35},{"x":1968,"y":1265,"v":0.31},{"x":3405,"y":345,"v":0.36},{"x":3407,"y":664,"v":0.27},{"x":3406,"y":957,"v":0.33},{"x":3406,"y":1273,"v":0.29},{"x":500,"y":2337,"v":0.36},{"x":502,"y":2656,"v":0.27},{"x":501,"y":2948,"v":0.34},{"x":501,"y":3267,"v":0.28},{"x":1970,"y":2335,"v":0.3},{"x":1972,"y":2661,"v":0.26},{"x":1971,"y":2950,"v":0.3},{"x":1971,"y":3275,"v":0.26}],
"r5":[{"x":503,"y":331,"v":0.66},{"x":505,"y":650,"v":0.35},{"x":504,"y":943,"v":0.52},{"x":504,"y":1259,"v":0.48},{"x":1967,"y":337,"v":0.5},{"x":1969,"y":656,"v":0.31},{"x":1968,"y":949,"v":0.45},{"x":1968,"y":1265,"v":0.36},{"x":3405,"y":345,"v":0.46},{"x":3407,"y":664,"v":0.3},{"x":3406,"y":957,"v":0.42},{"x":3406,"y":1273,"v":0.33},{"x":500,"y":2337,"v":0.48},{"x":502,"y":2656,"v":0.3},{"x":501,"y":2948,"v":0.43},{"x":501,"y":3267,"v":0.33},{"x":1970,"y":2335,"v":0.38},{"x":1972,"y":2661,"v":0.29},{"x":1971,"y":2950,"v":0.36},{"x":1971,"y":3275,"v":0.3}],
"gaps":[{"x":499,"x2":970,"y":336,"y2":643},{"x":499,"x2":970,"y":948,"y2":1251},{"x":1963,"x2":2434,"y":342,"y2":649},{"x":1963,"x2":2434,"y":954,"y2":1257},{"x":3401,"x2":3872,"y":350,"y2":657},{"x":3401,"x2":3872,"y":962,"y2":1265},{"x":496,"x2":966,"y":2342,"y2":2649},{"x":496,"x2":966,"y":2953,"y2":3259},{"x":1966,"x2":2440,"y":2340,"y2":2654},{"x":1966,"x2":2440,"y":2955,"y2":3267},
{"x":0,"x2":1040,"y":0,"y2":31},{"x":0,"x2":1040,"y":1560,"y2":1640},{"x":0,"x2":44,"y":0,"y2":1640},{"x":959,"x2":1040,"y":0,"y2":1640},
{"x":1430,"x2":2500,"y":0,"y2":37},{"x":1430,"x2":2500,"y":1567,"y2":1650},{"x":1430,"x2":1507,"y":0,"y2":1650},{"x":2422,"x2":2500,"y":0,"y2":1650},
{"x":2870,"x2":3907,"y":0,"y2":45},{"x":2870,"x2":3907,"y":1572,"y2":1650},{"x":2870,"x2":2945,"y":0,"y2":1650},{"x":3860,"x2":3907,"y":0,"y2":1650},
{"x":0,"x2":1040,"y":1960,"y2":2038},{"x":0,"x2":1040,"y":3566,"y2":3650},{"x":0,"x2":40,"y":1960,"y2":3650},{"x":954,"x2":1040,"y":1960,"y2":3650},
{"x":1430,"x2":2510,"y":1970,"y2":2046},{"x":1430,"x2":2510,"y":3566,"y2":3650},{"x":1430,"x2":1510,"y":1970,"y2":3650},{"x":2429,"x2":2510,"y":1970,"y2":3650},
{"x":3095,"x2":3175,"y":2325,"y2":2346},{"x":3095,"x2":3175,"y":3231,"y2":3255}],
"ticks":[{"x":3161,"x2":3207,"y":2346,"v":0.69},{"x":3161,"x2":3207,"y":2461,"v":0.6},{"x":3161,"x2":3207,"y":2720,"v":0.4},{"x":3161,"x2":3207,"y":2978,"v":0.2},{"x":3161,"x2":3207,"y":3233,"v":0}],
"caps":[{"x":488,"y":1697,"t":"(a)"},{"x":1946,"y":1702,"t":"(b)"},{"x":3424,"y":1712,"t":"(c)"},{"x":486,"y":3680,"t":"(d)"},{"x":1961,"y":3680,"t":"(e)"}],
"bar":[{"x":3630,"y":2786,"t":"entropy"}]},
"encoding":{"x":{"field":"x","type":"quantitative","axis":null,"scale":{"domain":[0,3907],"nice":false,"zero":false}},"y":{"field":"y","type":"quantitative","axis":null,"scale":{"domain":[3755,0],"nice":false,"zero":false}}},
"layer":[
{"data":{"name":"cells"},"mark":{"type":"square","size":6084,"filled":true,"opacity":1},"encoding":{"color":{"field":"v","type":"quantitative","legend":null,"scale":{"domain":[0,0.01,0.02,0.04,0.06,0.08,0.1,0.12,0.15,0.18,0.22,0.27,0.33,0.4,0.45,0.52,0.6,0.69],"range":["#000060","#00009a","#0000a8","#0000bc","#0010cc","#0030c8","#0050c4","#0068c0","#0080bc","#0094b8","#00b0b0","#00d0a0","#00f070","#a0ff00","#ffff00","#ff9000","#ff0000","#900000"],"clamp":true}}}},
{"data":{"name":"cells"},"mark":{"type":"square","size":23104,"filled":true,"opacity":0.3},"encoding":{"color":{"field":"v","type":"quantitative","legend":null}}},
{"data":{"name":"cells"},"mark":{"type":"square","size":23104,"filled":true,"opacity":0.3},"encoding":{"order":{"field":"y","sort":"descending"},"color":{"field":"v","type":"quantitative","legend":null}}},
{"data":{"name":"cells"},"mark":{"type":"square","size":11236,"filled":true,"opacity":0.25},"encoding":{"order":{"field":"x","sort":"descending"},"color":{"field":"v","type":"quantitative","legend":null}}},
{"data":{"name":"cells"},"mark":{"type":"square","size":11236,"filled":true,"opacity":0.25},"encoding":{"color":{"field":"v","type":"quantitative","legend":null}}},
{"data":{"name":"lines"},"mark":{"type":"line","interpolate":"cardinal","stroke":"#50c0ff","strokeWidth":4,"opacity":0.16},"encoding":{"detail":{"field":"k"},"order":{"field":"o"}}},
{"data":{"name":"r1"},"mark":{"type":"circle","size":11300,"opacity":0.4},"encoding":{"color":{"field":"v","type":"quantitative","legend":null}}},
{"data":{"name":"r2"},"mark":{"type":"circle","size":5540,"opacity":0.55},"encoding":{"color":{"field":"v","type":"quantitative","legend":null}}},
{"data":{"name":"r3"},"mark":{"type":"circle","size":2460,"opacity":0.75},"encoding":{"color":{"field":"v","type":"quantitative","legend":null}}},
{"data":{"name":"r4"},"mark":{"type":"circle","size":1018,"opacity":0.95},"encoding":{"color":{"field":"v","type":"quantitative","legend":null}}},
{"data":{"name":"r5"},"mark":{"type":"circle","size":380,"opacity":1},"encoding":{"color":{"field":"v","type":"quantitative","legend":null}}},
{"data":{"name":"ticks"},"mark":{"type":"rule","stroke":"#222222","strokeWidth":5},"encoding":{"x2":{"field":"x2"},"fill":{"field":"v","type":"quantitative","scale":{"domain":[-0.008,0.07,0.25,0.348,0.4,0.438,0.517,0.627,0.698],"range":["#00007f","#0000ff","#00ffff","#00ff66","#88ff00","#ffff00","#ff9000","#ff0000","#800000"]},"legend":{"orient":"none","legendX":3102,"legendY":2336,"title":null,"type":"gradient","direction":"vertical","gradientLength":907,"gradientThickness":64,"values":[0,0.2,0.4,0.6,0.69],"format":".2f","labelFont":"Liberation Serif","labelFontSize":84,"labelColor":"#444444","labelOffset":87,"labelOverlap":false,"padding":0}}}},
{"data":{"name":"gaps"},"mark":{"type":"rect","color":"white"},"encoding":{"x2":{"field":"x2"},"y2":{"field":"y2"}}},
{"data":{"name":"caps"},"mark":{"type":"text","font":"Liberation Serif","fontSize":80,"color":"#333333"},"encoding":{"text":{"field":"t"}}},
{"data":{"name":"bar"},"mark":{"type":"text","font":"Liberation Sans","fontSize":88,"angle":270,"color":"#444444"},"encoding":{"text":{"field":"t"}}}
]}
